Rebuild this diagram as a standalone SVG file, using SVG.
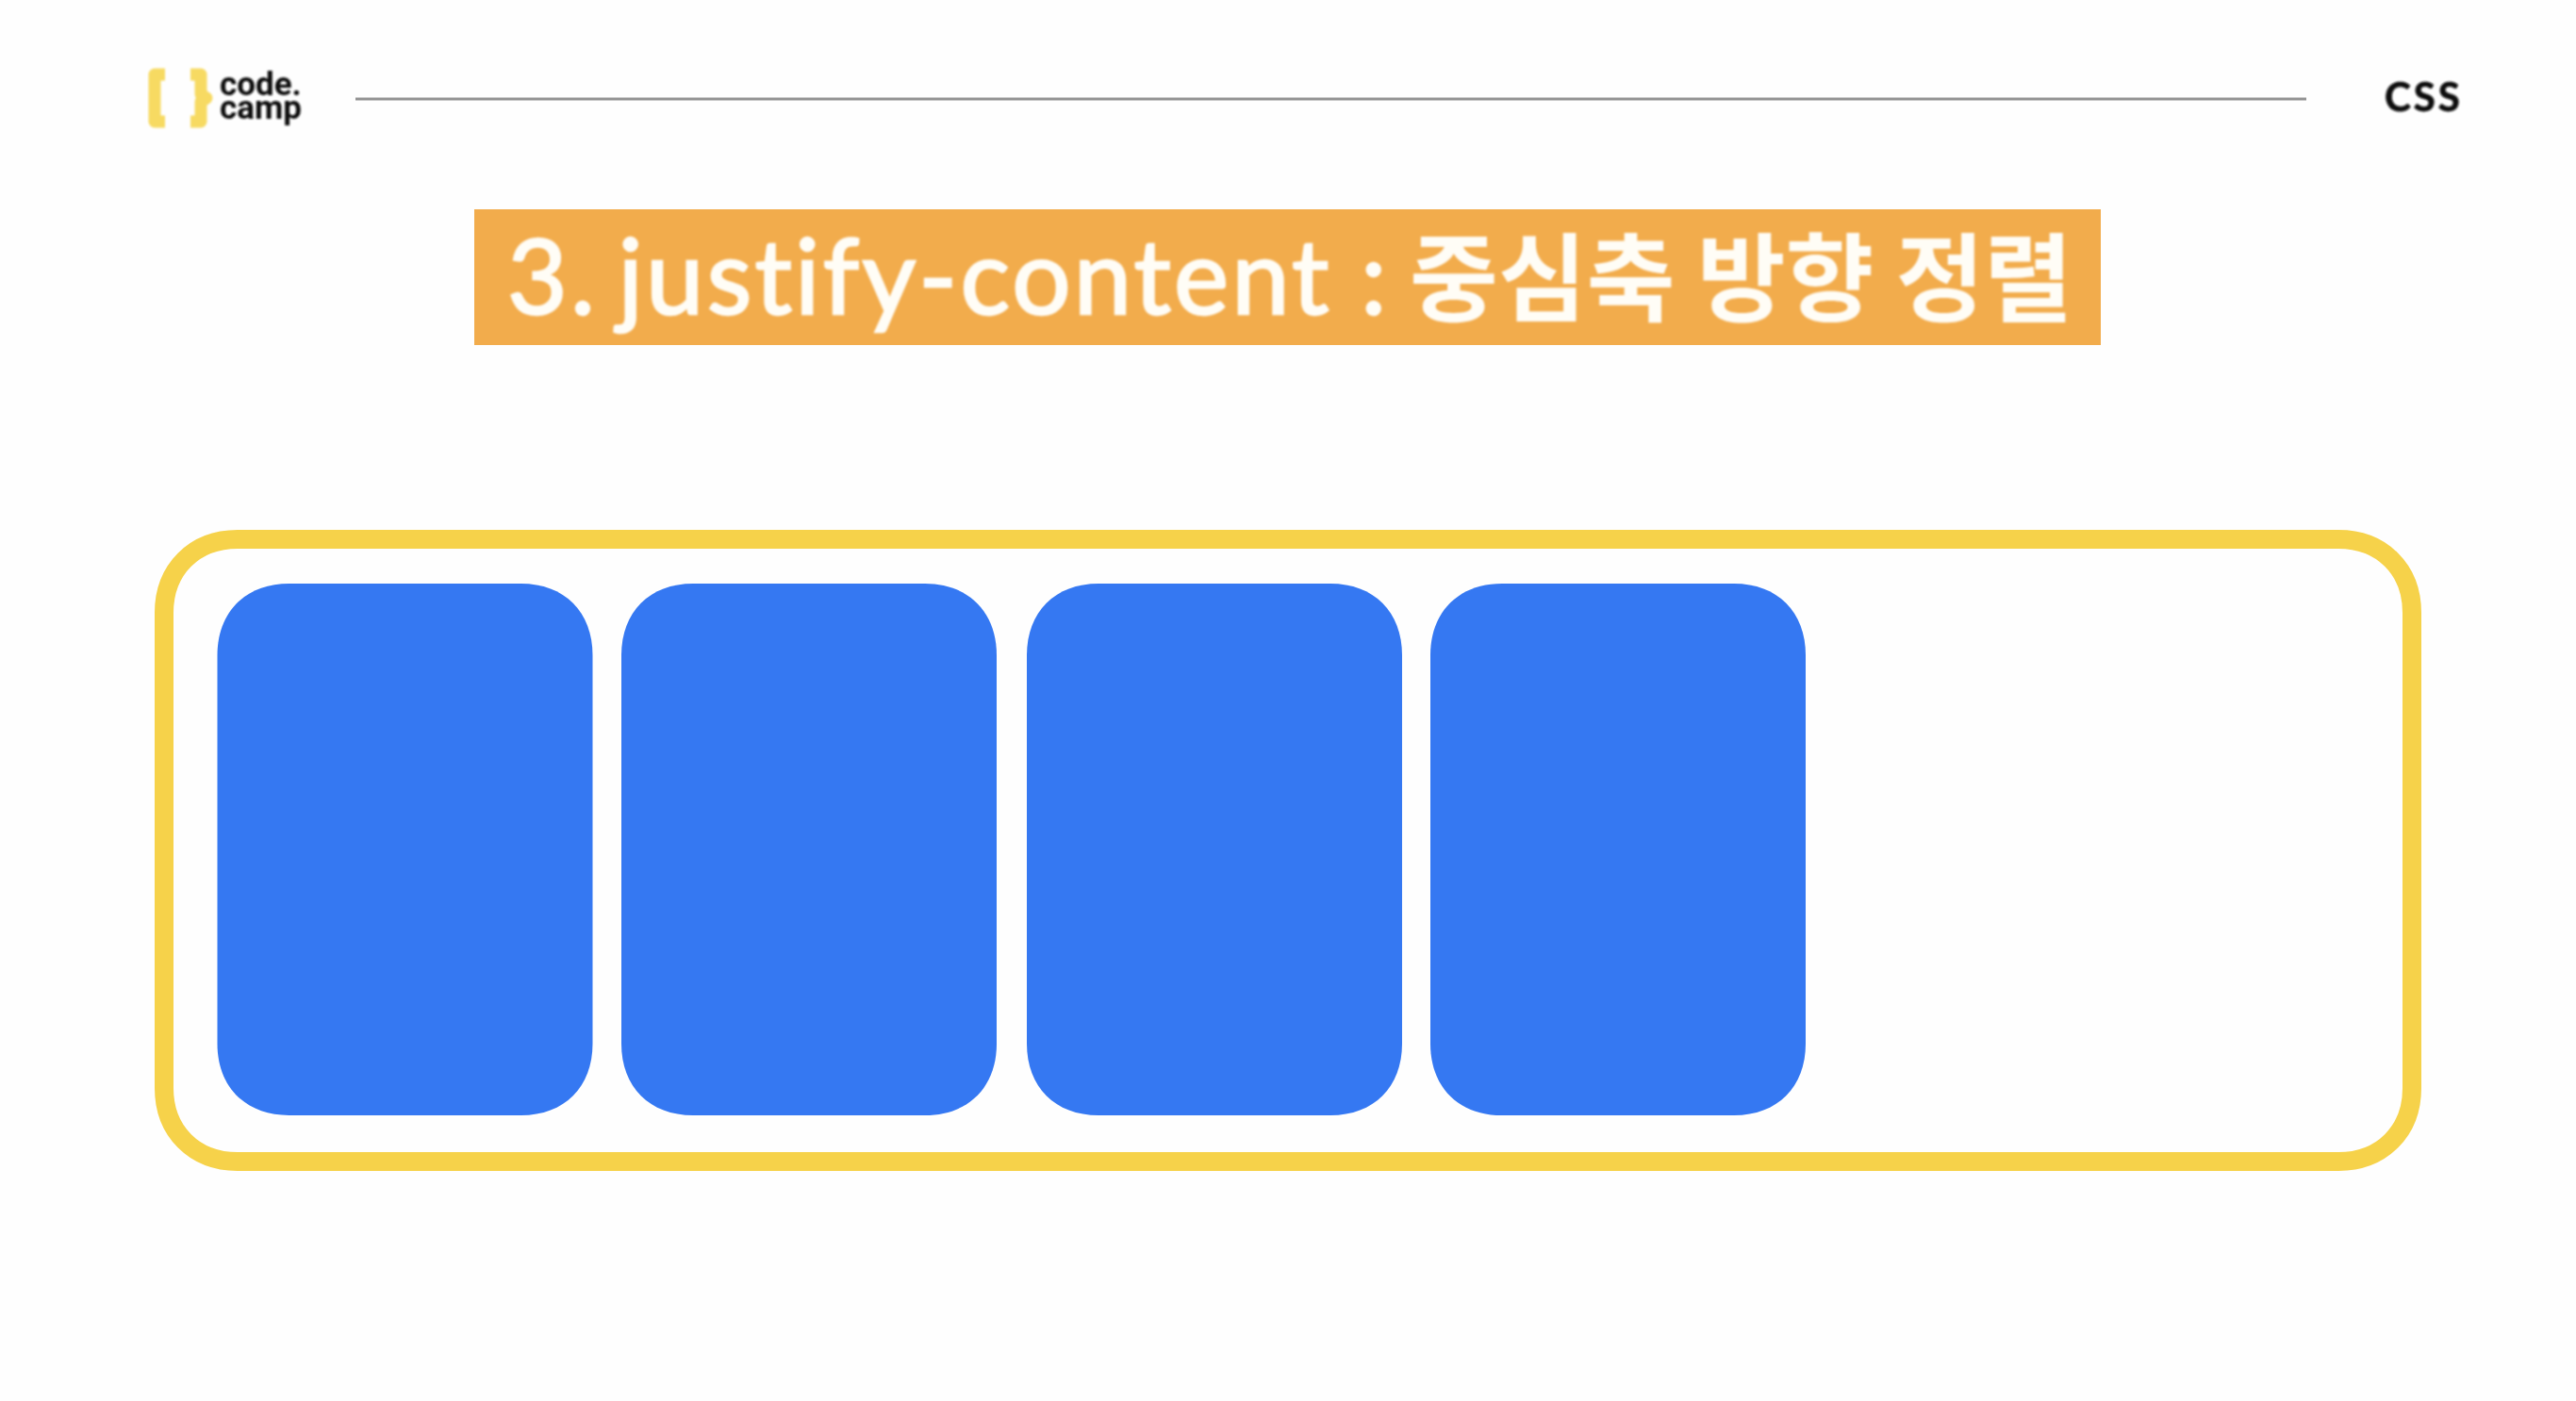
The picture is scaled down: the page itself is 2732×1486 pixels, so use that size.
<svg xmlns="http://www.w3.org/2000/svg" width="2732" height="1486" viewBox="0 0 2732 1486">
<defs>
<filter id="soft" x="-5%" y="-5%" width="110%" height="110%"><feGaussianBlur stdDeviation="0.9"/></filter>
<path id="card" d="M76 0H322C368 0 398 30 398 76V488C398 534 368 564 322 564H76C30 564 0 534 0 488V76C0 30 30 0 76 0Z"/>
</defs>
<style>
.card{fill:#3578f2}
.brace{fill:none;stroke:#f7da62;stroke-width:13;stroke-linejoin:round}
.logo{font-family:Roboto,"Liberation Sans",sans-serif;font-weight:700;font-size:35px;fill:#111}
.title{font-family:Lato,"Noto Sans",sans-serif;font-size:110px;fill:#fffdf6;stroke:#fffdf6;stroke-width:2.5;letter-spacing:3.2px;word-spacing:-10px}
.ko{font-family:"Noto Sans CJK KR",sans-serif;font-size:102px;font-weight:700;stroke-width:0;letter-spacing:0;word-spacing:0}
</style>
<rect width="2732" height="1486" fill="#fefefe"/>
<g id="logo" filter="url(#soft)">
<path class="brace" d="M175 79H164V129H175M202 79H213V100L219 104L213 108V129H202"/>
<text class="logo" x="233" y="101">code.</text>
<text class="logo" x="233" y="126">camp</text>
</g>
<g id="header-rule"><line x1="377" y1="105" x2="2446" y2="105" stroke="#929292" stroke-width="3"/></g>
<g id="section" filter="url(#soft)"><text x="2529" y="118" font-family="Lato,'Liberation Sans',sans-serif" font-weight="700" font-size="42" letter-spacing="3" fill="#111" stroke="#111" stroke-width="0.8">CSS</text></g>
<g id="title">
<rect x="503" y="222" width="1725" height="144" fill="#f2ac4c"/>
<text class="title" y="333" filter="url(#soft)"><tspan x="538">3. justify-content</tspan><tspan x="1443">:</tspan><tspan class="ko" x="1495" y="333">중심축 방향 정렬</tspan></text>
</g>
<g id="container"><path d="M252 572H2480C2526 572 2558 604 2558 650V1154C2558 1200 2526 1232 2480 1232H252C206 1232 174 1200 174 1154V650C174 604 206 572 252 572Z" fill="#fefefe" stroke="#f6d24a" stroke-width="20"/></g>
<g id="item-1"><use class="card" href="#card" x="230.500" y="619"/></g>
<g id="item-2"><use class="card" href="#card" x="659" y="619"/></g>
<g id="item-3"><use class="card" href="#card" x="1089" y="619"/></g>
<g id="item-4"><use class="card" href="#card" x="1517" y="619"/></g>
</svg>
